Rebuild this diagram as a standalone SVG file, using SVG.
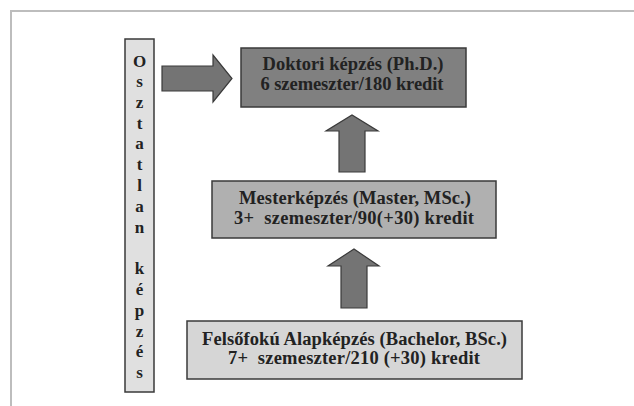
<svg xmlns="http://www.w3.org/2000/svg" width="634" height="406" viewBox="0 0 634 406">
<style>
.lbl{font-family:"Liberation Serif","Times New Roman",serif;font-weight:bold;font-size:18.5px;fill:#222;text-anchor:middle;white-space:pre}
.vt{font-family:"Liberation Serif","Times New Roman",serif;font-weight:bold;font-size:17px;fill:#222;text-anchor:middle}
.box{stroke:#3a3a3a;stroke-width:1.5}
.arrow{fill:#747474;stroke:#3a3a3a;stroke-width:1.2;stroke-linejoin:miter}
</style>
<rect width="634" height="406" fill="#ffffff"/>
<path d="M11 406 V11 H634" fill="none" stroke="#bdbdbd" stroke-width="2"/>

<g id="osztatlan">
<rect x="125" y="39" width="29" height="353" fill="#e0e0e0" class="box"/>
<text class="vt" x="139.5" y="66.5">O</text>
<text class="vt" x="139.5" y="87">s</text>
<text class="vt" x="139.5" y="107.8">z</text>
<text class="vt" x="139.5" y="128.6">t</text>
<text class="vt" x="139.5" y="149.4">a</text>
<text class="vt" x="139.5" y="170.2">t</text>
<text class="vt" x="139.5" y="191">l</text>
<text class="vt" x="139.5" y="211.8">a</text>
<text class="vt" x="139.5" y="232.6">n</text>
<text class="vt" x="139.5" y="274.2">k</text>
<text class="vt" x="139.5" y="295">é</text>
<text class="vt" x="139.5" y="315.8">p</text>
<text class="vt" x="139.5" y="336.6">z</text>
<text class="vt" x="139.5" y="357.4">é</text>
<text class="vt" x="139.5" y="378.2">s</text>
</g>

<g id="doktori">
<rect x="241" y="48" width="225" height="59" fill="#808080" class="box"/>
<text class="lbl" x="353" y="69.5" textLength="181">Doktori képzés (Ph.D.)</text>
<text class="lbl" x="352" y="89.5" textLength="183">6 szemeszter/180 kredit</text>
</g>

<g id="mester">
<rect x="212" y="181" width="284" height="57" fill="#b0b0b0" class="box"/>
<text class="lbl" x="355" y="203.5" textLength="232">Mesterképzés (Master, MSc.)</text>
<text class="lbl" x="354" y="223.5" xml:space="preserve" textLength="240">3+  szemeszter/90(+30) kredit</text>
</g>

<g id="alapkepzes">
<rect x="187" y="321" width="335" height="58" fill="#d6d6d6" class="box"/>
<text class="lbl" x="354.5" y="345" textLength="305">Felsőfokú Alapképzés (Bachelor, BSc.)</text>
<text class="lbl" x="354" y="364" xml:space="preserve" textLength="252">7+  szemeszter/210 (+30) kredit</text>
</g>

<g id="connectors">
<polygon class="arrow" points="162,66 213,66 213,55 232,78.5 213,102 213,91 162,91"/>
<polygon class="arrow" points="339,172 339,131 326,131 352,115 378,131 365,131 365,172"/>
<polygon class="arrow" points="341,308 341,266 328,266 354,249 379,266 367,266 367,308"/>
</g>
</svg>
